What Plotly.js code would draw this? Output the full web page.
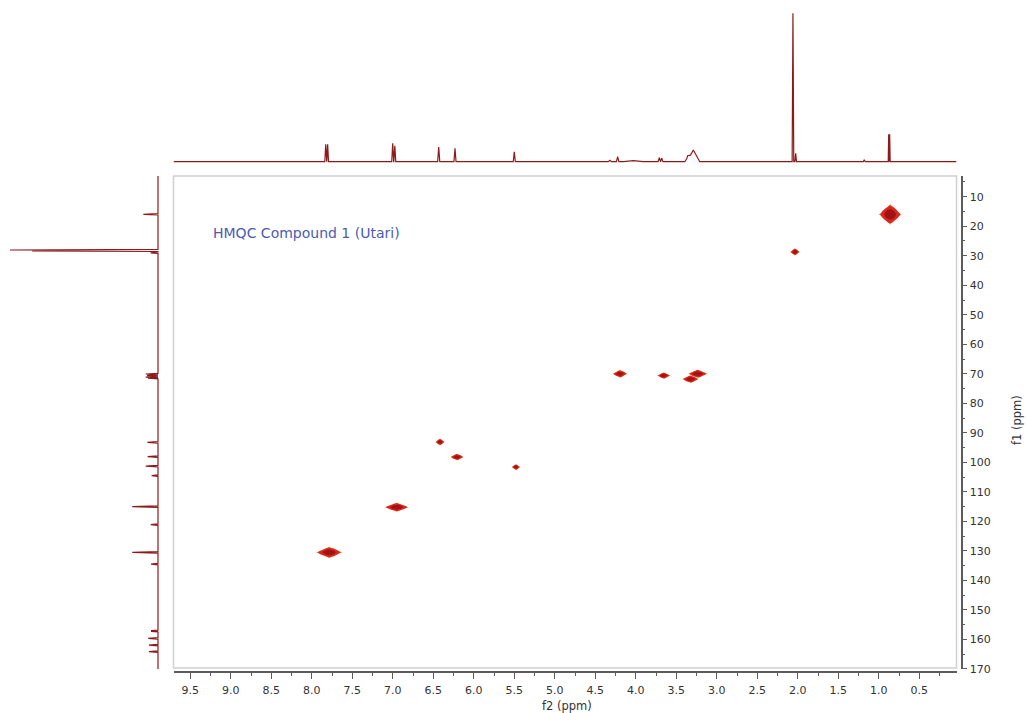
<!DOCTYPE html>
<html><head><meta charset="utf-8">
<script src="https://cdn.plot.ly/plotly-3.0.1.min.js"></script>
<style>html,body{margin:0;padding:0;background:#fff;}#chart{width:1026px;height:713px;}</style>
</head><body><div id="chart"></div>
<script>
// ---- 1H projection (f2, top) : shift ppm, relative intensity, half linewidth ppm
const h1Shift     = [7.828, 7.804, 7.001, 6.975, 6.433, 6.232, 5.500, 4.320, 4.224, 4.030, 3.710, 3.680, 3.360, 3.290, 2.580, 2.110, 2.060, 2.026, 1.180, 0.878, 0.866];
const h1Height    = [11.7, 11.7, 12.4, 10.8, 9.9, 9.0, 6.7, 1.0, 3.4, 0.7, 2.7, 2.4, 3.0, 7.9, 0.4, 0.5, 100, 5.7, 1.3, 18.5, 18.5];
const h1HalfWidth = [0.011, 0.011, 0.012, 0.012, 0.013, 0.013, 0.013, 0.02, 0.015, 0.12, 0.015, 0.015, 0.035, 0.08, 0.02, 0.01, 0.01, 0.01, 0.012, 0.006, 0.006];

// ---- 13C projection (f1, left)
const c13Shift     = [15.96, 28.06, 28.35, 29.0, 70.06, 70.6, 71.1, 71.5, 93.2, 98.07, 101.3, 104.5, 115.0, 121.1, 130.5, 134.5, 157.0, 157.3, 159.6, 161.9, 164.1];
const c13Height    = [9.9, 100, 85, 5, 8.3, 7.4, 8.3, 6.8, 7.2, 7.0, 8.3, 4.3, 17.4, 4.9, 17.4, 4.7, 4.7, 4.7, 6.6, 6.1, 6.1];
const c13HalfWidth = [0.25, 0.22, 0.22, 0.25, 0.2, 0.2, 0.2, 0.2, 0.25, 0.25, 0.25, 0.25, 0.25, 0.25, 0.25, 0.25, 0.15, 0.15, 0.25, 0.25, 0.25];

// ---- HMQC cross peaks (centre f2, centre f1, extent f2, extent f1 in ppm)
const crossF2      = [0.86, 2.035, 4.195, 3.655, 3.235, 3.325, 6.417, 6.207, 5.479, 6.952, 7.784];
const crossF1      = [16.0, 28.7, 70.0, 70.6, 70.0, 71.8, 93.1, 98.2, 101.6, 115.2, 130.5];
const crossF2Width = [0.29, 0.12, 0.19, 0.17, 0.25, 0.21, 0.12, 0.17, 0.11, 0.31, 0.33];
const crossF1Width = [7.2, 2.6, 2.8, 2.3, 3.0, 2.8, 2.4, 2.4, 2.1, 3.2, 4.0];

// ---- ticks
const f2TickVals = [9.5, 9.0, 8.5, 8.0, 7.5, 7.0, 6.5, 6.0, 5.5, 5.0, 4.5, 4.0, 3.5, 3.0, 2.5, 2.0, 1.5, 1.0, 0.5];
const f2TickText = f2TickVals.map(v => v.toFixed(1));
const f1TickVals = [10, 20, 30, 40, 50, 60, 70, 80, 90, 100, 110, 120, 130, 140, 150, 160, 170];

const W = 1026, H = 713;
const px = v => v / W, py = v => 1 - v / H;
const f2Range = [9.707, 0.041];
const f1Range = [170.07, 2.99];
const lineCol = '#8b1a1a';

// piecewise-linear projection: sum of the listed peaks, evaluated at their own break points
function stick(shifts, heights, hws, hi, lo) {
  const pts = [hi, lo];
  shifts.forEach((s, i) => pts.push(s + hws[i], s, s - hws[i]));
  const uniq = Array.from(new Set(pts)).sort((a, b) => b - a);
  const inten = uniq.map(x => {
    let v = 0;
    shifts.forEach((s, i) => {
      const d = Math.abs(x - s);
      if (d < hws[i]) v += heights[i] * (1 - d / hws[i]);
    });
    return v;
  });
  return {pos: uniq, inten};
}

function blobs(scale, expo) {
  const xs = [], ys = [];
  const N = 32;
  crossF2.forEach((cx, i) => {
    const a = scale * crossF2Width[i] / 2, b = scale * crossF1Width[i] / 2;
    for (let k = 0; k <= N; k++) {
      const t = 2 * Math.PI * k / N;
      const c = Math.cos(t), s = Math.sin(t);
      xs.push(cx + a * Math.sign(c) * Math.pow(Math.abs(c), expo));
      ys.push(crossF1[i] + b * Math.sign(s) * Math.pow(Math.abs(s), expo));
    }
    xs.push(null); ys.push(null);
  });
  return {xs, ys};
}

const topSpec = stick(h1Shift, h1Height, h1HalfWidth, f2Range[0], f2Range[1]);
const leftSpec = stick(c13Shift, c13Height, c13HalfWidth, f1Range[0], f1Range[1]);
const outerBlob = blobs(1.0, 2.5), midBlob = blobs(0.86, 1.6), coreBlob = blobs(0.5, 1.2);

const traces = [
  {x: outerBlob.xs, y: outerBlob.ys, type: 'scatter', mode: 'lines', fill: 'toself', fillcolor: '#f3a12c', line: {width: 0}, hoverinfo: 'skip', xaxis: 'x', yaxis: 'y'},
  {x: midBlob.xs, y: midBlob.ys, type: 'scatter', mode: 'lines', fill: 'toself', fillcolor: '#dd261e', line: {width: 0}, hoverinfo: 'skip', xaxis: 'x', yaxis: 'y'},
  {x: coreBlob.xs, y: coreBlob.ys, type: 'scatter', mode: 'lines', fill: 'toself', fillcolor: '#a01414', line: {width: 0}, hoverinfo: 'skip', xaxis: 'x', yaxis: 'y'},
  {x: topSpec.pos, y: topSpec.inten, type: 'scatter', mode: 'lines', line: {color: lineCol, width: 1.2}, xaxis: 'x3', yaxis: 'y2', hoverinfo: 'skip'},
  {x: leftSpec.inten, y: leftSpec.pos, type: 'scatter', mode: 'lines', line: {color: lineCol, width: 1.2}, xaxis: 'x4', yaxis: 'y3', hoverinfo: 'skip'}
];

const tickFont = {family: 'DejaVu Sans, Verdana, sans-serif', size: 11, color: '#333'};
const axCol = '#5c5c5c';
const xDom = [px(173.5), px(956.5)];
const yDom = [py(669.2), py(176)];

const layout = {
  width: W, height: H,
  margin: {l: 0, r: 0, t: 0, b: 0},
  paper_bgcolor: '#fff', plot_bgcolor: 'rgba(0,0,0,0)',
  showlegend: false,
  xaxis: {domain: xDom, range: f2Range, anchor: 'free', position: py(672.3),
    showline: true, linecolor: axCol, linewidth: 1.5, showgrid: false, zeroline: false,
    ticks: 'outside', ticklen: 6, tickwidth: 1, tickcolor: axCol, ticklabelstandoff: 2,
    tickvals: f2TickVals, ticktext: f2TickText, tickfont: tickFont,
    minor: {dtick: 0.25, tick0: 0, ticks: 'outside', ticklen: 3, tickcolor: axCol, showgrid: false}},
  yaxis: {domain: yDom, range: f1Range, anchor: 'free', side: 'right', position: px(961.7),
    showline: true, linecolor: axCol, linewidth: 1.5, showgrid: false, zeroline: false,
    ticks: 'outside', ticklen: 5, tickwidth: 1, tickcolor: axCol,
    tickvals: f1TickVals, tickfont: tickFont,
    minor: {dtick: 5, tick0: 0, ticks: 'outside', ticklen: 3, tickcolor: axCol, showgrid: false}},
  xaxis3: {domain: xDom, range: f2Range, anchor: 'y2', visible: false},
  yaxis2: {domain: [py(170), 1], range: [-5.59, 108.96], anchor: 'x3', visible: false},
  xaxis4: {domain: [0, px(160)], range: [106.76, -1.35], anchor: 'y3', visible: false},
  yaxis3: {domain: yDom, range: f1Range, anchor: 'x4', visible: false},
  shapes: [
    {type: 'rect', xref: 'paper', yref: 'paper', x0: xDom[0], x1: xDom[1], y0: py(668), y1: py(176),
     line: {color: '#d0d0d0', width: 1.5}, fillcolor: 'rgba(0,0,0,0)', layer: 'below'}
  ],
  annotations: [
    {text: 'HMQC Compound 1 (Utari)', xref: 'paper', yref: 'paper', x: px(211), y: py(233.5),
     xanchor: 'left', yanchor: 'middle', showarrow: false,
     font: {family: 'DejaVu Sans, Verdana, sans-serif', size: 14, color: '#4a5cb0'}},
    {text: 'f2 (ppm)', xref: 'paper', yref: 'paper', x: px(566.5), y: py(705.5),
     xanchor: 'center', yanchor: 'middle', showarrow: false, borderpad: 0,
     font: {family: 'DejaVu Sans, Verdana, sans-serif', size: 11.5, color: '#333'}},
    {text: 'f1 (ppm)', xref: 'paper', yref: 'paper', x: px(1017), y: py(420),
     xanchor: 'center', yanchor: 'middle', textangle: -90, showarrow: false,
     font: {family: 'DejaVu Sans, Verdana, sans-serif', size: 11.5, color: '#333'}}
  ]
};

Plotly.newPlot('chart', traces, layout, {displayModeBar: false, responsive: false});
</script>
</body></html>
